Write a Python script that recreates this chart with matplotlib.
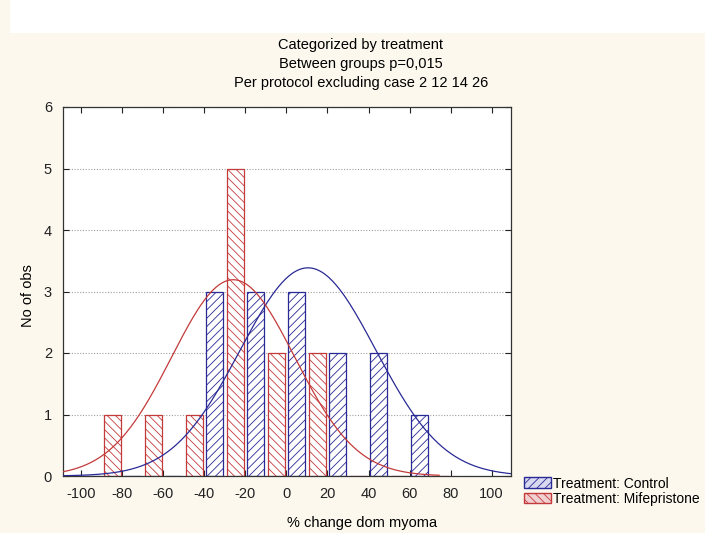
"""Categorized histogram of % change in dominant myoma, by treatment."""

import matplotlib.pyplot as plt
import numpy as np
from matplotlib.patches import Patch, Rectangle

# bins of width 20, centres
bin_centres = [-90, -70, -50, -30, -10, 10, 30, 50, 70]
control_counts = [0, 0, 0, 3, 3, 3, 2, 2, 1]
mife_counts = [1, 1, 1, 5, 2, 2, 0, 0, 0]

# fitted normal curves (mean, sd)
control_fit = (10.5, 33.0)
mife_fit = (-26.0, 30.0)

title_lines = [
    "Categorized Histogram: % change dominant myoma",
    "Categorized by treatment",
    "Between groups p=0,015",
    "Per protocol excluding case 2 12 14 26",
]
x_ticks = list(range(-100, 101, 20))
y_ticks = list(range(0, 7))

BLUE = "#2a2a96"
RED = "#c43a3a"
BG = "#fcf8ee"

plt.rcParams["font.family"] = ["Liberation Sans", "DejaVu Sans"]
plt.rcParams["hatch.linewidth"] = 0.6
plt.rcParams["axes.unicode_minus"] = False

fig = plt.figure(figsize=(7.05, 5.33), dpi=100, facecolor=BG)
ax = fig.add_axes([63 / 705, 1 - 476 / 533, 448 / 705, 369 / 533])
ax.set_facecolor("white")

bin_w = 20
bar_w = 8.2
centres = np.array(bin_centres, dtype=float)
n_ctrl = sum(control_counts)
n_mife = sum(mife_counts)

ax.bar(centres - 5, control_counts, width=bar_w, facecolor="white",
       edgecolor=BLUE, hatch="////", linewidth=0.9, zorder=2)
ax.bar(centres + 5, mife_counts, width=bar_w, facecolor="white",
       edgecolor=RED, hatch="\\\\\\\\", linewidth=0.9, zorder=2)

xs = np.linspace(-109, 109.5, 400)
for (mu, sd), n, col, x_end in [(control_fit, n_ctrl, BLUE, 109.5),
                                (mife_fit, n_mife, RED, 75)]:
    xx = xs[xs <= x_end]
    yy = n * bin_w / (sd * np.sqrt(2 * np.pi)) * np.exp(-0.5 * ((xx - mu) / sd) ** 2)
    ax.plot(xx, yy, color=col, lw=0.9, zorder=3)

ax.set_xlim(-109, 109.5)
ax.set_ylim(0, 6)
ax.set_xticks(x_ticks)
ax.set_yticks(y_ticks)
ax.tick_params(direction="in", length=4, width=0.8, top=True, right=True,
               labelsize=10.5, colors="#222222", pad=8)
ax.yaxis.grid(True, linestyle=(0, (1, 1.5)), color="#a0a0a0", lw=0.8)
ax.set_axisbelow(True)
for sp in ax.spines.values():
    sp.set_color("#333333")
    sp.set_linewidth(0.9)

fig.text(362 / 705, 1 - 523 / 533, "% change dom myoma", ha="center", va="center",
         fontsize=10.5)
fig.text(28 / 705, 1 - 296 / 533, "No of obs", ha="center", va="center",
         rotation=90, fontsize=10.5)

title_y = [25, 45, 64, 83]
for txt, ypx in zip(title_lines, title_y):
    fig.text(361 / 705, 1 - ypx / 533, txt, ha="center", va="center", fontsize=10.5)

# white strip across the top that hides most of the first title line
fig.patches.append(Rectangle((10 / 705, 1 - 33 / 533), 1, 33 / 533,
                             transform=fig.transFigure, facecolor="white",
                             edgecolor="none", zorder=5))

handles = [
    Patch(facecolor="#d8d8f0", edgecolor=BLUE, hatch="////", label="Treatment: Control"),
    Patch(facecolor="#f0d0d0", edgecolor=RED, hatch="\\\\\\\\", label="Treatment: Mifepristone"),
]
fig.legend(handles=handles, loc="upper left", bbox_to_anchor=(518 / 705, 1 - 471 / 533),
           frameon=False, fontsize=10, handlelength=2.0, handleheight=0.8,
           handletextpad=0.15, labelspacing=0.1, borderaxespad=0)

fig.savefig("out.png", dpi=100, facecolor=BG)
